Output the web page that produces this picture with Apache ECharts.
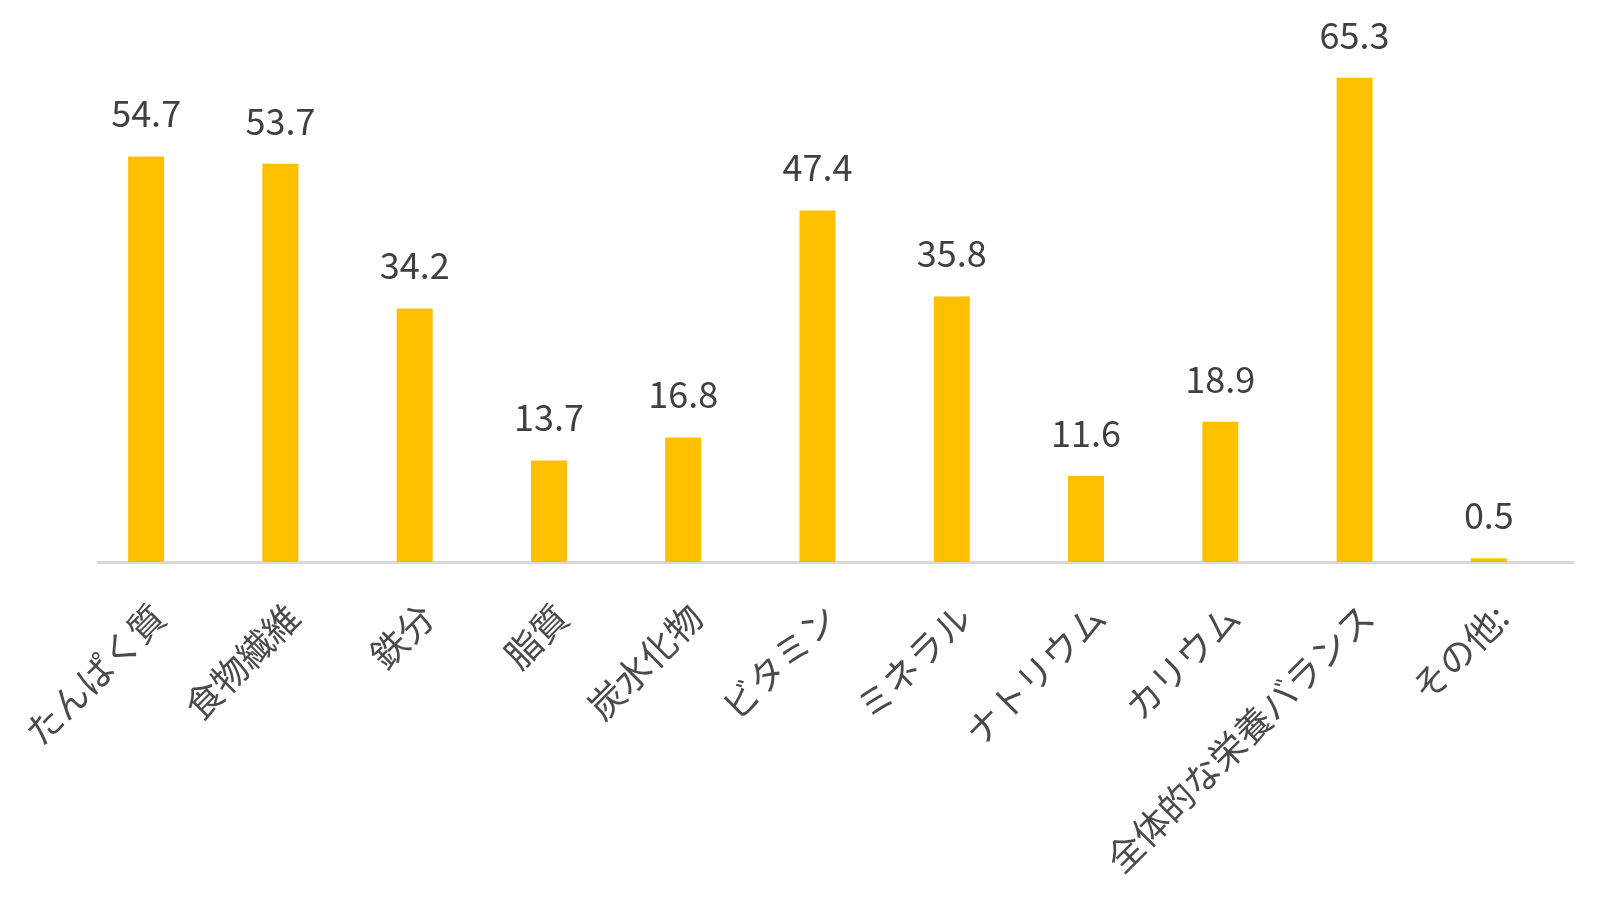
<!DOCTYPE html>
<html>
<head>
<meta charset="utf-8">
<script src="https://cdn.jsdelivr.net/npm/echarts@6/dist/echarts.min.js"></script>
<style>
html,body{margin:0;padding:0;background:#fff;}
#chart{width:1600px;height:910px;}
</style>
</head>
<body>
<div id="chart"></div>
<script>
const categories = ['たんぱく質','食物繊維','鉄分','脂質','炭水化物','ビタミン','ミネラル','ナトリウム','カリウム','全体的な栄養バランス','その他:'];
const values = [54.7, 53.7, 34.2, 13.7, 16.8, 47.4, 35.8, 11.6, 18.9, 65.3, 0.5];

const chart = echarts.init(document.getElementById('chart'));
const font = '"Noto Sans CJK JP", "Noto Sans", sans-serif';
chart.setOption({
  animation: false,
  backgroundColor: '#ffffff',
  grid: [
    { left: 79, right: 44, top: 43, bottom: 348, containLabel: false },
    { left: 98, right: 27, top: 43, bottom: 348, containLabel: false }
  ],
  xAxis: [
    {
      type: 'category', gridIndex: 0, data: categories,
      axisLine: { show: false },
      axisTick: { show: false },
      axisLabel: {
        interval: 0, rotate: 45, margin: 36,
        verticalAlign: 'top', align: 'right',
        fontFamily: font, fontSize: 36, color: '#4a4a4a'
      }
    },
    {
      type: 'value', gridIndex: 1, min: 0, max: 1,
      axisLine: { show: true, onZero: false, lineStyle: { color: '#d9d9d9', width: 3 } },
      axisTick: { show: false }, axisLabel: { show: false }, splitLine: { show: false }
    }
  ],
  yAxis: [
    { type: 'value', gridIndex: 0, min: 0, max: 70, show: false, splitLine: { show: false } },
    { type: 'value', gridIndex: 1, min: 0, max: 1, show: false, splitLine: { show: false } }
  ],
  series: [{
    type: 'bar', xAxisIndex: 0, yAxisIndex: 0,
    data: values, barWidth: 36,
    itemStyle: { color: '#FFC000' },
    label: {
      show: true, position: 'top', distance: 25,
      fontFamily: font, fontSize: 36, color: '#404040'
    }
  }]
});
</script>
</body>
</html>
